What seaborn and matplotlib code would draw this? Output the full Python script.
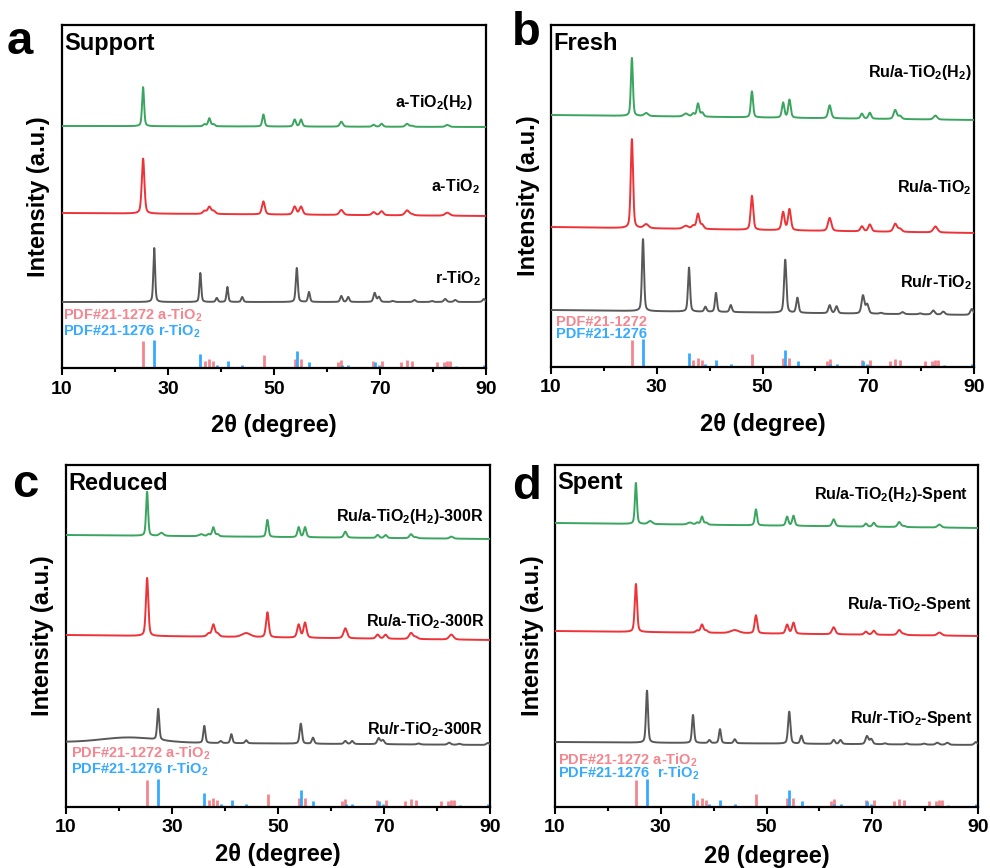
"""XRD patterns of TiO2 supports and Ru/TiO2 catalysts (four panels)."""

import matplotlib

matplotlib.use("Agg")
import matplotlib.pyplot as plt
import numpy as np
import seaborn as sns
from matplotlib.ticker import MultipleLocator

# 2-theta window
X_MIN, X_MAX = 10, 90
X_TICKS = [10, 30, 50, 70, 90]

ANATASE_PEAKS = [25.3, 28.0, 35.5, 36.9, 37.8, 38.6, 44.0, 48.0, 53.9, 55.1,
                 62.7, 68.8, 70.3, 75.1, 76.0, 82.7]
ANATASE_FWHM = [0.45, 0.9, 1.0, 0.6, 0.55, 0.6, 1.6, 0.5, 0.55, 0.55,
                0.65, 0.6, 0.6, 0.7, 0.7, 0.8]
RUTILE_PEAKS = [27.4, 36.1, 39.2, 41.2, 44.0, 54.3, 56.6, 62.7, 64.0, 69.0,
                69.8, 72.4, 76.5, 79.8, 82.3, 84.2, 89.6]
RUTILE_FWHM = [0.4, 0.4, 0.45, 0.4, 0.45, 0.45, 0.45, 0.5, 0.5, 0.55,
               0.55, 0.6, 0.6, 0.6, 0.6, 0.6, 0.6]

# peak heights above baseline, and baseline at 10 and 90 degrees
# panel a - Support
A_GREEN_H = [39, 0, 0, 2, 8, 2, 0, 12, 7, 7, 5, 2, 3, 3, 1, 2]
A_GREEN_BASE = [242, 241]
A_RED_H = [55, 0, 0, 3, 7, 3, 0, 13, 8, 8, 5, 3, 4, 5, 1, 3]
A_RED_BASE = [155, 152]
A_GRAY_H = [54, 29, 4, 15, 5, 34, 10, 6, 5, 9, 5, 1, 2, 1, 3, 2, 3]
A_GRAY_BASE = [66, 66]
# panel b - Fresh
B_GREEN_H = [58, 3, 3, 3, 13, 4, 0, 26, 15, 18, 13, 5, 6, 9, 3, 4]
B_GREEN_BASE = [252, 247]
B_RED_H = [89, 4, 3, 3, 15, 4, 0, 34, 18, 21, 13, 5, 7, 8, 3, 6]
B_RED_BASE = [140, 134]
B_GRAY_H = [72, 44, 5, 19, 7, 53, 15, 8, 7, 18, 9, 1, 2, 1, 4, 3, 6]
B_GRAY_BASE = [57, 52]
# panel c - Reduced
C_GREEN_H = [44, 3, 2, 2, 9, 2, 0, 17, 10, 10, 6, 3, 3, 4, 1, 2]
C_GREEN_BASE = [272, 268]
C_RED_H = [58, 0, 0, 3, 12, 3, 4, 25, 13, 15, 10, 4, 4, 6, 2, 5]
C_RED_BASE = [172, 167]
C_GRAY_H = [31, 17, 2, 9, 3, 20, 6, 3, 3, 6, 4, 0, 1, 0, 2, 1, 2]
C_GRAY_BASE = [65, 62]
C_GRAY_HUMP = [22, 5, 12]  # broad amorphous hump: centre, height, fwhm
# panel d - Spent
D_GREEN_H = [41, 3, 2, 2, 8, 2, 0, 16, 9, 10, 7, 3, 4, 5, 1, 3]
D_GREEN_BASE = [284, 279]
D_RED_H = [48, 0, 0, 2, 8, 2, 3, 18, 9, 11, 7, 3, 4, 5, 1, 3]
D_RED_BASE = [176, 171]
D_GRAY_H = [52, 28, 3, 14, 4, 32, 8, 4, 4, 8, 5, 1, 1, 1, 2, 2, 3]
D_GRAY_BASE = [65, 62]

# reference cards
PDF_ANATASE_POS = [25.28, 36.95, 37.80, 38.58, 48.05, 53.89, 55.06, 62.12, 62.69,
                   68.76, 70.31, 74.03, 75.03, 76.02, 80.73, 82.14, 82.66, 83.15]
PDF_ANATASE_H = [27, 7, 9, 7, 13, 9, 9, 6, 8, 7, 7, 6, 8, 7, 6, 6, 7, 7]
PDF_RUTILE_POS = [27.45, 36.09, 39.19, 41.23, 44.05, 54.32, 56.64, 62.74, 64.04,
                  65.48, 69.01, 69.79, 72.41, 74.41, 76.51, 79.82, 82.33, 84.26,
                  87.46, 89.56]
PDF_RUTILE_H = [28, 14, 3, 7, 3, 17, 6, 3, 3, 1, 6, 3, 1, 1, 1, 1, 2, 2, 1, 3]

GREEN = "#3aa55e"
RED = "#ee3338"
GRAY = "#585858"
PINK = "#f4868f"
BLUE = "#35aaff"

sns.set_theme(style="ticks")
plt.rcParams["font.family"] = ["Liberation Sans", "DejaVu Sans"]
plt.rcParams["font.weight"] = "bold"
plt.rcParams["mathtext.default"] = "regular"
plt.rcParams["text.color"] = "black"
plt.rcParams["axes.labelcolor"] = "black"
plt.rcParams["xtick.color"] = "black"

FIG_W, FIG_H = 990, 868


def profile(x, pos, heights, fwhm, scale=1.0, eta=0.4):
    """Sum of pseudo-Voigt peaks."""
    y = np.zeros_like(x)
    for p, h, w in zip(pos, heights, fwhm):
        w = w * scale
        d = (x - p) / (w / 2)
        y += h * (eta / (1 + d ** 2) + (1 - eta) * np.exp(-np.log(2) * d ** 2))
    return y


def pattern(pos, heights, fwhm, base, scale=1.0, hump=None):
    x = np.arange(X_MIN, X_MAX + 0.01, 0.02)
    y = base[0] + (base[1] - base[0]) * (x - X_MIN) / (X_MAX - X_MIN)
    y = y + profile(x, pos, heights, fwhm, scale)
    if hump is not None:
        y = y + profile(x, [hump[0]], [hump[1]], [hump[2]], eta=0.0)
    return x, y


# layout in figure pixels: left, right, top, bottom of each axes box
panels = [
    dict(box=(62, 486, 25, 368), letter="a", letter_xy=(7, 42), title="Support",
         curves=[(ANATASE_PEAKS, A_GREEN_H, ANATASE_FWHM, A_GREEN_BASE, GREEN, 1.0, None),
                 (ANATASE_PEAKS, A_RED_H, ANATASE_FWHM, A_RED_BASE, RED, 1.3, None),
                 (RUTILE_PEAKS, A_GRAY_H, RUTILE_FWHM, A_GRAY_BASE, GRAY, 1.0, None)],
         labels=[("a-TiO$_2$(H$_2$)", 411, 266), ("a-TiO$_2$", 418, 181),
                 ("r-TiO$_2$", 419, 89)],
         pdf=("PDF#21-1272 a-TiO$_2$", "PDF#21-1276 r-TiO$_2$", 1, 53, 37),
         xlabel_pad=57),
    dict(box=(551, 974, 25, 367), letter="b", letter_xy=(512, 33), title="Fresh",
         curves=[(ANATASE_PEAKS, B_GREEN_H, ANATASE_FWHM, B_GREEN_BASE, GREEN, 1.0, None),
                 (ANATASE_PEAKS, B_RED_H, ANATASE_FWHM, B_RED_BASE, RED, 1.15, None),
                 (RUTILE_PEAKS, B_GRAY_H, RUTILE_FWHM, B_GRAY_BASE, GRAY, 1.15, None)],
         labels=[("Ru/a-TiO$_2$(H$_2$)", 421, 295), ("Ru/a-TiO$_2$", 421, 179),
                 ("Ru/r-TiO$_2$", 421, 84)],
         pdf=("PDF#21-1272", "PDF#21-1276", 5, 45, 33),
         xlabel_pad=58),
    dict(box=(66, 490, 465, 807), letter="c", letter_xy=(12, 485), title="Reduced",
         curves=[(ANATASE_PEAKS, C_GREEN_H, ANATASE_FWHM, C_GREEN_BASE, GREEN, 1.0, None),
                 (ANATASE_PEAKS, C_RED_H, ANATASE_FWHM, C_RED_BASE, RED, 1.2, None),
                 (RUTILE_PEAKS, C_GRAY_H, RUTILE_FWHM, C_GRAY_BASE, GRAY, 1.15, C_GRAY_HUMP)],
         labels=[("Ru/a-TiO$_2$(H$_2$)-300R", 418, 290), ("Ru/a-TiO$_2$-300R", 419, 185),
                 ("Ru/r-TiO$_2$-300R", 417, 77)],
         pdf=("PDF#21-1272 a-TiO$_2$", "PDF#21-1276 r-TiO$_2$", 5, 54, 38),
         xlabel_pad=48),
    dict(box=(555, 978, 465, 807), letter="d", letter_xy=(512, 487), title="Spent",
         curves=[(ANATASE_PEAKS, D_GREEN_H, ANATASE_FWHM, D_GREEN_BASE, GREEN, 1.0, None),
                 (ANATASE_PEAKS, D_RED_H, ANATASE_FWHM, D_RED_BASE, RED, 1.15, None),
                 (RUTILE_PEAKS, D_GRAY_H, RUTILE_FWHM, D_GRAY_BASE, GRAY, 1.15, None)],
         labels=[("Ru/a-TiO$_2$(H$_2$)-Spent", 413, 312), ("Ru/a-TiO$_2$-Spent", 417, 202),
                 ("Ru/r-TiO$_2$-Spent", 417, 89)],
         pdf=("PDF#21-1272 a-TiO$_2$", "PDF#21-1276  r-TiO$_2$", 3, 47, 34),
         xlabel_pad=50),
]

fig = plt.figure(figsize=(FIG_W / 100, FIG_H / 100), dpi=100)

for p in panels:
    left, right, top, bottom = p["box"]
    w_px, h_px = right - left, bottom - top
    ax = fig.add_axes([left / FIG_W, (FIG_H - bottom) / FIG_H, w_px / FIG_W, h_px / FIG_H])

    # reference sticks
    ax.vlines(PDF_ANATASE_POS, 0, PDF_ANATASE_H, color=PINK, lw=2, zorder=2)
    ax.vlines(PDF_RUTILE_POS, 0, PDF_RUTILE_H, color=BLUE, lw=2, zorder=2)

    for pos, hts, fwhm, base, color, scale, hump in p["curves"]:
        x, y = pattern(pos, hts, fwhm, base, scale, hump)
        sns.lineplot(x=x, y=y, color=color, lw=1.4, ax=ax, estimator=None,
                     errorbar=None, zorder=3)

    ax.set_xlim(X_MIN, X_MAX)
    ax.set_ylim(0, h_px)
    ax.set_yticks([])
    ax.set_xticks(X_TICKS)
    ax.xaxis.set_minor_locator(MultipleLocator(10))
    ax.tick_params(axis="x", which="major", direction="out", length=5, width=1.5,
                   labelsize=14, pad=4)
    ax.tick_params(axis="x", which="minor", direction="out", length=3, width=1.5)
    for lab in ax.get_xticklabels():
        lab.set_fontweight("bold")
    for sp in ax.spines.values():
        sp.set_visible(True)
        sp.set_linewidth(1.6)
        sp.set_color("black")

    ax.set_xlabel("2θ (degree)", fontsize=17, fontweight="bold", va="center")
    ax.xaxis.set_label_coords(0.5, -(p["xlabel_pad"]) / h_px)
    ax.set_ylabel("Intensity (a.u.)", fontsize=17, fontweight="bold", va="center")
    ax.yaxis.set_label_coords(-23 / w_px, 0.5)

    ax.text(2 / w_px, 1 - 18 / h_px, p["title"], transform=ax.transAxes,
            fontsize=17, fontweight="bold", va="center", ha="left")
    for text, xr, yr in p["labels"]:
        ax.text(xr / w_px, yr / h_px, text, transform=ax.transAxes, fontsize=11.5,
                fontweight="bold", ha="right", va="center", color="black")

    t1, t2, px0, y1, y2 = p["pdf"]
    ax.text(px0 / w_px, y1 / h_px, t1, transform=ax.transAxes, fontsize=10.5,
            color=PINK, ha="left", va="center", fontweight="semibold", zorder=4)
    ax.text(px0 / w_px, y2 / h_px, t2, transform=ax.transAxes, fontsize=10.5,
            color=BLUE, ha="left", va="center", fontweight="semibold", zorder=4)

    lx, ly = p["letter_xy"]
    fig.text(lx / FIG_W, 1 - ly / FIG_H, p["letter"], fontsize=34,
             fontweight="bold", ha="left", va="center")

fig.savefig("out.png", dpi=100)
